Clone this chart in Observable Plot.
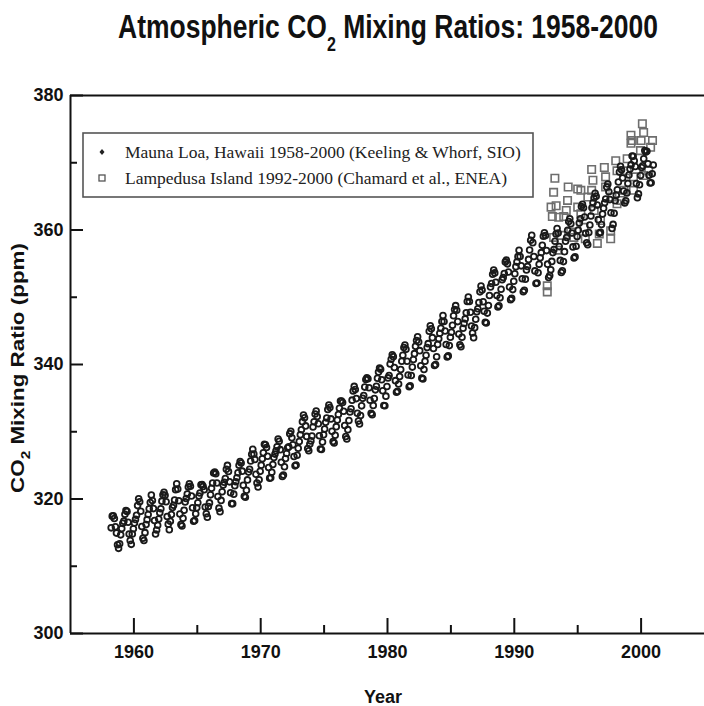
<!DOCTYPE html>
<html><head><meta charset="utf-8">
<script src="https://cdn.jsdelivr.net/npm/d3@7"></script>
<script src="https://cdn.jsdelivr.net/npm/@observablehq/plot@0.6"></script>
<style>body{margin:0;background:#fff}</style>
</head><body>
<div id="chart"></div>
<script>
// Mauna Loa monthly means (ppm)
const ml1950s = [ // Mar 1958 – Dec 1959
315.71,317.45,317.50,317.10,315.86,314.93,313.20,312.66,313.33,314.67,
315.62,316.38,316.71,317.72,318.29,318.15,316.54,314.80,313.84,313.26,314.80,315.58];
const ml1960s = [ // Jan 1960 – Dec 1969
316.43,316.97,317.58,319.02,320.03,319.59,318.18,315.91,314.16,313.83,315.00,316.19,
316.93,317.70,318.54,319.48,320.58,319.77,318.57,316.79,314.80,315.38,316.10,317.01,
317.94,318.56,319.68,320.63,321.01,320.55,319.58,317.40,316.26,315.42,316.69,317.69,
318.74,319.08,319.86,321.39,322.25,321.47,319.74,317.77,316.21,315.99,317.12,318.31,
319.57,320.07,320.73,321.77,322.25,321.89,320.44,318.70,316.70,316.79,317.79,318.71,
319.44,320.44,320.89,322.13,322.16,321.87,321.39,318.81,317.81,317.30,318.87,319.42,
320.62,321.59,322.39,323.87,324.01,323.75,322.39,320.37,318.64,318.10,319.79,321.08,
322.07,322.50,323.04,324.42,325.00,324.09,322.55,320.92,319.31,319.31,320.72,321.96,
322.57,323.15,323.89,325.02,325.57,325.36,324.14,322.03,320.41,320.25,321.31,322.84,
324.00,324.42,325.64,326.66,327.38,326.70,325.89,323.67,322.38,321.78,322.85,324.11];
const ml1970s = [
325.03,325.99,326.87,328.13,328.07,327.66,326.35,324.69,323.10,323.16,323.98,325.13,
326.17,326.68,327.18,327.78,328.92,328.57,327.34,325.46,323.36,323.57,324.80,326.01,
326.77,327.63,327.75,329.72,330.07,329.09,328.05,326.32,324.93,325.06,326.50,327.55,
328.54,329.56,330.30,331.50,332.48,332.07,330.87,329.31,327.51,327.18,328.16,328.64,
329.35,330.71,331.48,332.65,333.09,332.25,331.18,329.40,327.43,327.37,328.46,329.57,
330.40,331.40,332.04,333.31,333.96,333.59,331.91,330.06,328.56,328.34,329.49,330.76,
331.75,332.56,333.50,334.58,334.57,334.34,333.05,330.94,329.30,328.94,330.31,331.68,
332.93,333.42,334.70,336.07,336.74,336.27,334.93,332.75,331.58,331.16,332.40,333.85,
334.97,335.39,336.64,337.76,338.01,337.89,336.54,334.68,332.76,332.54,333.92,334.95,
336.23,336.76,337.96,338.89,339.47,339.29,337.73,336.09,333.91,333.86,335.29,336.73];
const ml1980s = [
338.01,338.36,340.08,340.77,341.46,341.17,339.56,337.60,335.88,336.01,337.10,338.21,
339.24,340.48,341.38,342.51,342.91,342.25,340.49,338.43,336.69,336.85,338.36,339.61,
340.75,341.61,342.70,343.56,344.13,343.35,342.06,339.82,337.97,337.86,339.26,340.49,
341.38,342.52,343.10,344.94,345.75,345.32,343.99,342.39,339.86,339.99,341.16,342.99,
343.82,344.63,345.38,346.39,347.29,346.40,344.99,342.98,341.12,341.28,342.81,344.06,
344.79,345.82,347.25,348.17,348.75,348.07,346.38,344.52,342.92,342.63,344.06,345.38,
346.11,346.78,347.68,349.37,350.03,349.37,347.76,345.73,344.68,343.99,345.48,346.72,
347.84,348.29,349.23,350.80,351.66,351.07,349.33,347.92,346.27,346.18,347.64,348.78,
350.25,351.54,352.05,353.41,354.04,353.62,352.22,350.27,348.55,348.72,349.91,351.18,
352.60,352.92,353.53,355.26,355.52,354.97,353.75,351.52,349.64,349.83,351.14,352.37];
const ml1990s = [
353.50,354.55,355.23,356.04,357.00,356.07,354.67,352.76,350.82,351.04,352.69,354.07,
354.59,355.63,357.03,358.48,359.22,358.12,356.06,353.92,352.05,352.11,353.64,354.89,
355.88,356.63,357.72,359.07,359.58,359.17,356.94,354.92,352.94,353.23,354.09,355.33,
356.63,357.10,358.32,359.41,360.23,359.55,357.53,355.48,353.67,353.95,355.30,356.78,
358.34,358.89,359.95,361.25,361.67,360.94,359.55,357.49,355.84,356.00,357.59,359.05,
359.98,361.03,361.66,363.48,363.82,363.30,361.94,359.50,358.11,357.80,359.61,360.74,
362.09,363.29,364.06,364.76,365.45,365.01,363.70,361.54,359.51,359.65,360.80,362.38,
363.23,364.06,364.61,366.40,366.84,365.68,364.52,362.57,360.24,360.83,362.49,364.34,
365.18,365.98,367.13,368.61,369.49,368.95,367.74,365.79,364.01,364.35,365.52,366.93,
368.18,369.07,369.68,370.99,370.96,370.30,369.45,366.90,364.81,365.37,366.72,368.10];
const ml2000s = [
369.29,369.54,370.60,371.82,371.58,371.70,369.86,368.13,367.00,367.03,368.37,369.67];

// Lampedusa Island samples (decimal year, ppm)
const lampYear = [1992.6,1992.6,1992.9,1993.0,1993.1,1993.1,1993.2,1993.3,1993.4,1993.5,1993.7,1993.9,
1994.1,1994.2,1994.25,1994.45,1994.7,1995.0,1995.0,1995.25,1995.25,1995.5,1995.6,1995.8,
1996.1,1996.1,1996.2,1996.3,1996.55,1996.7,1996.8,1997.1,1997.2,1997.2,1997.6,1997.6,1997.7,
1998.0,1998.1,1998.1,1998.4,1998.65,1998.9,1998.9,1999.2,1999.2,1999.3,1999.4,1999.4,
1999.95,2000.0,2000.1,2000.2,2000.2,2000.6,2000.75,2000.9];
const lampPpm = [350.8,351.7,363.4,362.0,365.6,358.9,367.7,363.6,357.0,361.9,359.2,362.0,
362.9,364.4,366.4,359.7,358.9,366.1,363.4,365.9,362.4,360.4,358.7,364.9,
369.0,365.9,367.4,362.9,358.0,359.4,361.4,369.3,367.9,366.4,358.7,359.9,364.9,
370.3,368.8,363.9,364.4,365.9,370.6,368.8,374.1,372.9,373.3,367.9,365.9,
371.8,373.3,375.8,374.5,368.1,368.8,372.3,373.3];

const xMajor = [1960,1970,1980,1990,2000];
const xMinor = [1965,1975,1985,1995];
const yMajor = [300,320,340,360,380];
const yMinor = [310,330,350,370];
const legendLabels = ["Mauna Loa, Hawaii 1958-2000 (Keeling & Whorf, SIO)",
                      "Lampedusa Island 1992-2000 (Chamard et al., ENEA)"];

function monthly(values, startYear, startMonth) {
  return values.map((v, i) => ({t: startYear + (startMonth - 1 + i + 0.5) / 12, v}));
}
const mauna = [
  ...monthly(ml1950s, 1958, 3), ...monthly(ml1960s, 1960, 1), ...monthly(ml1970s, 1970, 1),
  ...monthly(ml1980s, 1980, 1), ...monthly(ml1990s, 1990, 1), ...monthly(ml2000s, 2000, 1)];
const lamp = lampYear.map((t, i) => ({t, v: lampPpm[i]}));

const W = 704, H = 706, mL = 70, mR = 0, mT = 95, mB = 73;
const xDom = [1955, 2005], yDom = [300, 380];
const pxY = (H - mT - mB) / (yDom[1] - yDom[0]);
const pxX = (W - mL - mR) / (xDom[1] - xDom[0]);
const FONT = "'Liberation Sans', Arial, Helvetica, sans-serif";

const plot = Plot.plot({
  width: W, height: H, marginLeft: mL, marginRight: mR, marginTop: mT, marginBottom: mB,
  style: {fontFamily: FONT, fontSize: "18px", fontWeight: "bold", color: "#111", background: "#fff"},
  x: {domain: xDom},
  y: {domain: yDom},
  marks: [
    Plot.dot(lamp, {x: "t", y: "v", symbol: "square", r: 4.2, stroke: "#6e6e6e", strokeWidth: 1.6, fill: "none"}),
    Plot.dot(mauna, {x: "t", y: "v", r: 2.9, stroke: "#1a1a1a", strokeWidth: 1.8, fill: "none"}),
    Plot.ruleX(xMajor, {x: d => d, y1: yDom[0], y2: yDom[0] + 15 / pxY, strokeWidth: 2, stroke: "#111"}),
    Plot.ruleX(xMinor, {x: d => d, y1: yDom[0], y2: yDom[0] + 8 / pxY, strokeWidth: 2, stroke: "#111"}),
    Plot.ruleY(yMajor, {y: d => d, x1: xDom[0], x2: xDom[0] + 13 / pxX, strokeWidth: 2, stroke: "#111"}),
    Plot.ruleY(yMinor, {y: d => d, x1: xDom[0], x2: xDom[0] + 7 / pxX, strokeWidth: 2, stroke: "#111"}),
    Plot.ruleY([yDom[0], yDom[1]], {x1: xDom[0], x2: xDom[1], strokeWidth: 2, stroke: "#111"}),
    Plot.ruleX([xDom[0]], {y1: yDom[0], y2: yDom[1], strokeWidth: 2, stroke: "#111"}),
    Plot.axisX({ticks: xMajor, tickSize: 0, tickPadding: 12, tickFormat: d => String(d), label: null}),
    Plot.axisY({ticks: yMajor, tickSize: 0, tickPadding: 7, label: null})
  ]
});
document.getElementById("chart").appendChild(plot);

const svg = d3.select(plot);
function fitText(sel, target) {
  const len = sel.node().getComputedTextLength();
  return target / len;
}
// Title
const title = svg.append("text").attr("font-family", FONT).attr("font-weight", "bold")
  .attr("font-size", 33).attr("fill", "#111").attr("text-anchor", "middle");
title.append("tspan").text("Atmospheric CO");
title.append("tspan").attr("font-size", 20).attr("dy", 13).text("2");
title.append("tspan").attr("dy", -13).text(" Mixing Ratios: 1958-2000");
const ts = fitText(title, 540);
title.attr("transform", `translate(388,38) scale(${ts},1)`);

// Y label
const ylab = svg.append("text").attr("font-family", FONT).attr("font-weight", "bold")
  .attr("font-size", 19).attr("fill", "#111").attr("text-anchor", "middle");
ylab.append("tspan").text("CO");
ylab.append("tspan").attr("font-size", 13).attr("dy", 6).text("2");
ylab.append("tspan").attr("dy", -6).text(" Mixing Ratio (ppm)");
const ys = fitText(ylab, 250);
ylab.attr("transform", `translate(24,368) rotate(-90) scale(${ys},1)`);

// X label
svg.append("text").attr("font-family", FONT).attr("font-weight", "bold")
  .attr("font-size", 18).attr("fill", "#111").attr("text-anchor", "middle")
  .attr("x", 383).attr("y", 703).text("Year");

// Legend
const lg = svg.append("g");
lg.append("rect").attr("x", 83).attr("y", 133).attr("width", 450).attr("height", 64)
  .attr("fill", "#fff").attr("stroke", "#555").attr("stroke-width", 1.6);
lg.append("path").attr("d", "M102,149 L104.5,152 L102,155 L99.5,152 Z").attr("fill", "#222");
lg.append("rect").attr("x", 99).attr("y", 175).attr("width", 6).attr("height", 6)
  .attr("fill", "none").attr("stroke", "#555").attr("stroke-width", 1.3);
legendLabels.forEach((s, i) => {
  lg.append("text").attr("x", 125).attr("y", 158 + i * 26).attr("text-anchor", "start")
    .attr("font-family", "'Liberation Serif', 'Times New Roman', serif")
    .attr("font-size", 17.5).attr("font-weight", "normal").attr("fill", "#222").text(s);
});
</script>
</body></html>
